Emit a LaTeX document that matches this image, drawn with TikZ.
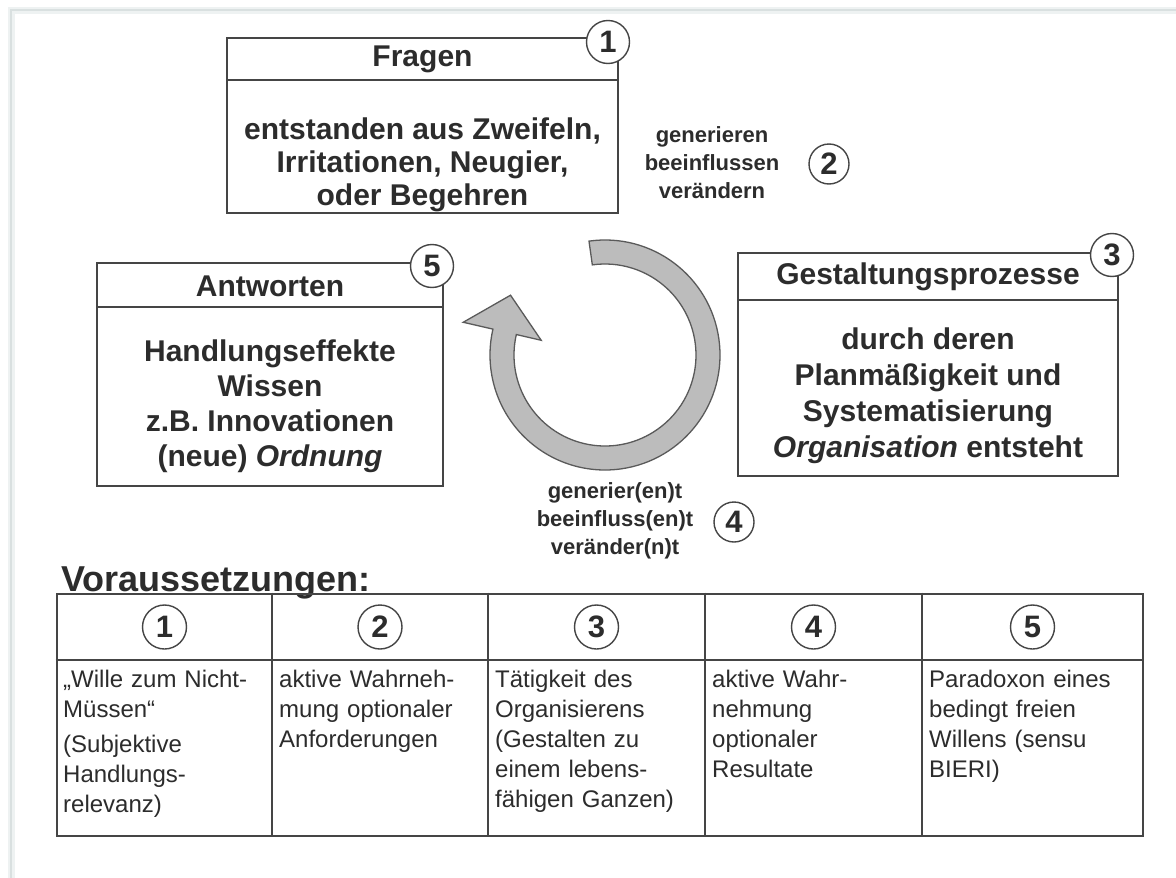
\documentclass[tikz,border=0pt]{standalone}
\usepackage{fontspec}
\setmainfont{Liberation Sans}
\usetikzlibrary{calc}

\definecolor{ink}{HTML}{2C2C2C}
\definecolor{rule}{HTML}{454545}
\definecolor{ringfill}{HTML}{BCBCBC}
\definecolor{ringline}{HTML}{5A5A5A}
\definecolor{frameline}{HTML}{D9E0E0}
\definecolor{framehalo}{HTML}{EEF2F2}

\tikzset{
  boxframe/.style={draw=rule, line width=1.6pt, rectangle, inner sep=0pt},
  divider/.style={draw=rule, line width=1.6pt},
  tablerule/.style={draw=rule, line width=1.8pt},
  headtext/.style={font=\fontsize{30}{34}\selectfont\bfseries, text=ink, inner sep=0pt},
  bodytext/.style={font=\fontsize{30}{35}\selectfont\bfseries, text=ink, inner sep=0pt, align=center},
  numcirc/.style={circle, draw=rule, line width=1.4pt, fill=white, minimum size=43pt,
    inner sep=0pt, font=\fontsize{31}{31}\selectfont\bfseries, text=ink},
  verbtext/.style={font=\fontsize{22}{28}\selectfont\bfseries, text=ink, inner sep=0pt, align=center},
  celltext/.style={font=\fontsize{24}{30}\selectfont, text=ink, inner sep=0pt,
    align=left, text width=205pt, anchor=north west},
  ringshape/.style={fill=ringfill, draw=ringline, line width=1.3pt, line join=miter},
}

\begin{document}
\begin{tikzpicture}[x=1pt, y=-1pt]
  % page and frame
  \useasboundingbox (0,0) rectangle (1176,878);
  \fill[white] (0,0) rectangle (1176,878);
  \draw[framehalo, line width=7pt] (11,878) -- (11,10) -- (1176,10);
  \draw[frameline, line width=2.5pt] (11,878) -- (11,10) -- (1176,10);

  % Fragen
  \node[boxframe, minimum width=391pt, minimum height=175pt] (fragen) at (422.5,125.5) {};
  \draw[divider] (fragen.west |- 0,80) -- (fragen.east |- 0,80);
  \node[headtext] (fragenhead) at (422.5,59) {Fragen};
  \node[bodytext, font=\fontsize{30}{33}\selectfont\bfseries] (fragenbody) at (422.5,165)
    {entstanden aus Zweifeln,\\Irritationen, Neugier,\\oder Begehren};
  \node[numcirc] (n1) at (608,42) {1};

  % label 2
  \node[verbtext] (verb2) at (712,163) {generieren\\beeinflussen\\verändern};
  \node[numcirc, minimum size=40pt] (n2) at (829,164) {2};

  % Antworten
  \node[boxframe, minimum width=346pt, minimum height=223pt] (antw) at (270,374.5) {};
  \draw[divider] (antw.west |- 0,307) -- (antw.east |- 0,307);
  \node[headtext] (antwhead) at (270,286) {Antworten};
  \node[bodytext] (antwbody) at (270,406)
    {Handlungseffekte\\Wissen\\z.B. Innovationen\\(neue) \textit{Ordnung}};
  \node[numcirc] (n5) at (432,266) {5};

  % Gestaltungsprozesse
  \node[boxframe, minimum width=380pt, minimum height=223pt] (gest) at (928,364.5) {};
  \draw[divider] (gest.west |- 0,300) -- (gest.east |- 0,300);
  \node[headtext] (gesthead) at (928,277) {Gestaltungsprozesse};
  \node[bodytext, font=\fontsize{30}{36}\selectfont\bfseries] (gestbody) at (928,396)
    {durch deren\\Planmäßigkeit und\\Systematisierung\\\textit{Organisation} entsteht};
  \node[numcirc] (n3) at (1112,255) {3};

  % circular arrow
  \begin{scope}[shift={(605,355)}, y=1pt]
    \draw[ringshape] (98:115) arc[start angle=98, end angle=-193, radius=115]
      -- (-193:145.5) -- ($(-193:105.5)+(77:37)$) -- (-193:65.5)
      -- (-193:91) arc[start angle=-193, end angle=98, radius=91] -- cycle;
  \end{scope}

  % label 4
  \node[verbtext] (verb4) at (615,521) {generier(en)t\\beeinfluss(en)t\\veränder(n)t};
  \node[numcirc, minimum size=40pt] (n4) at (734,522) {4};

  % Voraussetzungen
  \node[font=\fontsize{36}{36}\selectfont\bfseries, text=ink, inner sep=0pt, anchor=base west]
    (vortitle) at (61,591) {Voraussetzungen:};

  \node[rectangle, draw=rule, line width=2.8pt, minimum width=1086pt, minimum height=242pt,
    inner sep=0pt] (tab) at (600,715) {};
  \draw[tablerule] (tab.west |- 0,660) -- (tab.east |- 0,660);
  \foreach \cx in {272,488,705,922}
    \draw[tablerule] (tab.north -| \cx,0) -- (tab.south -| \cx,0);

  \node[numcirc, minimum size=44pt] (t1) at (164.5,627) {1};
  \node[numcirc, minimum size=44pt] (t2) at (380,627) {2};
  \node[numcirc, minimum size=44pt] (t3) at (596.5,627) {3};
  \node[numcirc, minimum size=44pt] (t4) at (813.5,627) {4};
  \node[numcirc, minimum size=44pt] (t5) at (1032.5,627) {5};

  \node[celltext] (c1) at (63,670)
    {„Wille zum Nicht-\\Müssen“\\[5pt](Subjektive\\Handlungs-\\relevanz)};
  \node[celltext] (c2) at (279,670)
    {aktive Wahrneh-\\mung optionaler\\Anforderungen};
  \node[celltext] (c3) at (495,670)
    {Tätigkeit des\\Organisierens\\(Gestalten zu\\einem lebens-\\fähigen Ganzen)};
  \node[celltext] (c4) at (712,670)
    {aktive Wahr-\\nehmung\\optionaler\\Resultate};
  \node[celltext] (c5) at (929,670)
    {Paradoxon eines\\bedingt freien\\Willens (sensu\\BIERI)};
\end{tikzpicture}
\end{document}
